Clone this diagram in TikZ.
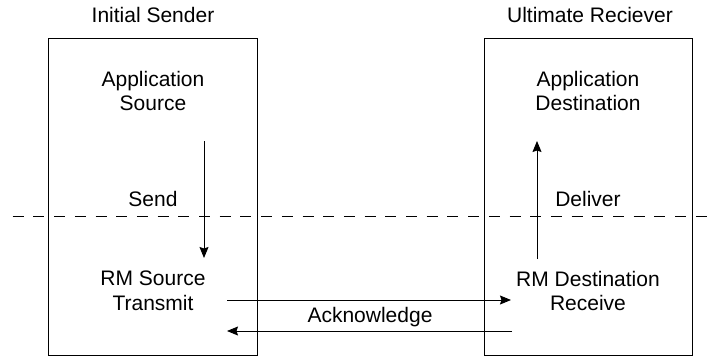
\documentclass[tikz,border=0pt]{standalone}
\usepackage{fontspec}
\setmainfont{Liberation Sans}
\usetikzlibrary{arrows.meta}
\begin{document}
\begin{tikzpicture}[x=1pt,y=-1pt,
  lbl/.style={font=\fontsize{21}{24.5}\selectfont, inner sep=0pt, align=center},
  frame/.style={draw, line width=1pt, inner sep=0pt},
  flow/.style={line width=1pt, -{Stealth[length=11pt,width=9pt,inset=1.5pt]}},
  sep/.style={line width=1pt, dash pattern=on 11pt off 9.7pt}]
\useasboundingbox (0,0) rectangle (707,356);
% boxes
\node[frame, minimum width=209pt, minimum height=317pt, anchor=north west] (sender) at (48,38) {};
\node[frame, minimum width=208pt, minimum height=317pt, anchor=north west] (receiver) at (484,38) {};
% titles
\node[lbl, anchor=base] (t1) at (153,23) {Initial Sender};
\node[lbl, anchor=base] (t2) at (590,23) {Ultimate Reciever};
% inner labels
\node[lbl] (appsrc) at (153,91) {Application\\Source};
\node[lbl] (appdst) at (588,91) {Application\\Destination};
\node[lbl] (rmsrc) at (153,291) {RM Source\\Transmit};
\node[lbl] (rmdst) at (588,291) {RM Destination\\Receive};
\node[lbl, anchor=base] (send) at (153,206) {Send};
\node[lbl, anchor=base] (deliver) at (588,206) {Deliver};
\node[lbl, anchor=base] (ack) at (370,322) {Acknowledge};
% dashed separator
\coordinate (d1) at (12.7,216);
\coordinate (d2) at (707,216);
\draw[sep] (d1) -- (d2);
% connector end points
\coordinate (s1) at (204,141);
\coordinate (s2) at (204,258);
\coordinate (r1) at (537,259);
\coordinate (r2) at (537,141);
\coordinate (a1) at (227,300);
\coordinate (a2) at (511,300);
\coordinate (b1) at (512,331);
\coordinate (b2) at (227,331);
\draw[flow] (s1) -- (s2);
\draw[flow] (r1) -- (r2);
\draw[flow] (a1) -- (a2);
\draw[flow] (b1) -- (b2);
\end{tikzpicture}
\end{document}
